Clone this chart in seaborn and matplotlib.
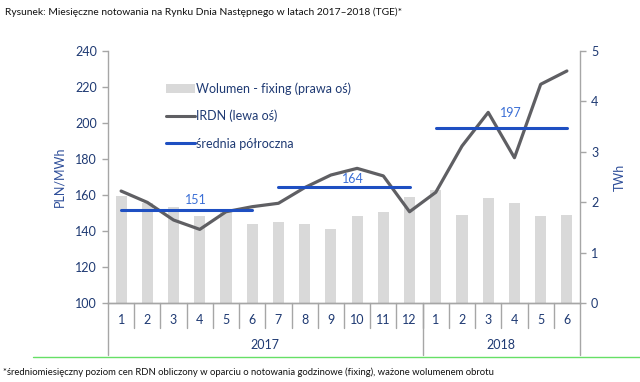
import matplotlib
matplotlib.use("Agg")
import matplotlib.pyplot as plt
import matplotlib.transforms as mtransforms
from matplotlib.patches import Patch
from matplotlib.lines import Line2D
import seaborn as sns
import pandas as pd

# ---- data ----
month_labels = ["1", "2", "3", "4", "5", "6", "7", "8", "9", "10", "11", "12",
                "1", "2", "3", "4", "5", "6"]
years = ["2017", "2018"]
year_sizes = [12, 6]
irdn = [162.2, 155.9, 146.1, 140.9, 150.7, 153.5, 155.4, 164.1, 171.1, 174.8, 170.6, 150.7,
        161.5, 187.2, 205.9, 180.7, 221.5, 228.9]
volume = [2.12, 1.98, 1.91, 1.73, 1.81, 1.56, 1.60, 1.56, 1.46, 1.73, 1.81, 2.11,
          2.24, 1.75, 2.09, 1.98, 1.73, 1.75]
half_starts = [0, 6, 12]
half_ends = [5, 11, 17]
half_avgs = [151.4, 164.4, 197.4]

legend_labels = ["Wolumen - fixing (prawa oś)", "IRDN (lewa oś)", "średnia półroczna"]
title = "Rysunek: Miesięczne notowania na Rynku Dnia Następnego w latach 2017\u20132018 (TGE)*"
footnote = "*średniomiesięczny poziom cen RDN obliczony w oparciu o notowania godzinowe (fixing), ważone wolumenem obrotu"

# ---- style ----
sns.set_theme(style="white")
plt.rcParams["font.family"] = ["Lato", "DejaVu Sans"]

NAVY = "#1F3A73"
AXBLUE = "#2F4F9A"
GRAY_SPINE = "#A6A6A6"
BAR = "#D9D9D9"
LINE = "#5F5F63"
AVG = "#1E4FC2"
AVGTXT = "#3B6FD6"
FS = 9

fig = plt.figure(figsize=(6.4, 3.82), dpi=100)
ax = fig.add_axes([108 / 640, 1 - 303 / 382, 472 / 640, 252 / 382])
ax2 = ax.twinx()
ax.set_zorder(ax2.get_zorder() + 1)
ax.patch.set_visible(False)

n = len(month_labels)
df = pd.DataFrame({"idx": list(range(n)), "irdn": irdn, "vol": volume})

sns.barplot(data=df, x="idx", y="vol", ax=ax2, color=BAR, width=0.42,
            saturation=1, edgecolor="none")
sns.lineplot(data=df, x="idx", y="irdn", ax=ax, color=LINE, linewidth=2.3)

for s, e, v in zip(half_starts, half_ends, half_avgs):
    sns.lineplot(x=[s, e], y=[v, v], ax=ax, color=AVG, linewidth=2.2)

label_offsets = [2.5, 1.0, 5.0]
for s, e, v, off in zip(half_starts, half_ends, half_avgs, label_offsets):
    ax.text(s + 2.85, v + off, f"{round(v)}", color=AVGTXT, fontsize=FS,
            ha="center", va="bottom")

ax.set_xlim(-0.5, n - 0.5)
ax2.set_xlim(-0.5, n - 0.5)
ax.set_ylim(100, 240)
ax.set_yticks(range(100, 241, 20))
ax2.set_ylim(0, 5)
ax2.set_yticks(range(0, 6))

for a in (ax, ax2):
    a.set_xticks([])
    a.set_xlabel("")
    for sp in a.spines.values():
        sp.set_color(GRAY_SPINE)
        sp.set_linewidth(1.0)
    a.spines["top"].set_visible(False)
ax.spines["right"].set_visible(False)
ax2.spines["left"].set_visible(False)

ax.tick_params(axis="y", length=4, width=1, color=GRAY_SPINE, labelsize=FS,
               labelcolor=NAVY, pad=4, left=True)
ax2.tick_params(axis="y", length=4, width=1, color=GRAY_SPINE, labelsize=FS,
                labelcolor=NAVY, pad=4, right=True)
ax.set_ylabel("PLN/MWh", color=AXBLUE, fontsize=FS, labelpad=7)
ax2.set_ylabel("TWh", color=AXBLUE, fontsize=FS, labelpad=11)

# category axis with two levels
trans = mtransforms.blended_transform_factory(ax.transData, ax.transAxes)
for i, lab in enumerate(month_labels):
    ax.text(i, -0.067, lab, transform=trans, ha="center", va="center",
            fontsize=FS, color=NAVY, clip_on=False)
for i in range(n - 1):
    ax.plot([i + 0.5, i + 0.5], [0, -0.099], transform=trans, color=GRAY_SPINE,
            lw=1.0, clip_on=False)
bounds = [-0.5]
for sz in year_sizes:
    bounds.append(bounds[-1] + sz)
for b in bounds:
    ax.plot([b, b], [0, -0.206], transform=trans, color=GRAY_SPINE, lw=1.0,
            clip_on=False)
for y, a, b in zip(years, bounds[:-1], bounds[1:]):
    ax.text((a + b) / 2, -0.167, y, transform=trans, ha="center", va="center",
            fontsize=FS, color=NAVY, clip_on=False)

handles = [Patch(facecolor=BAR, edgecolor="none"),
           Line2D([], [], color=LINE, lw=2.2),
           Line2D([], [], color=AVG, lw=2.2)]
leg = ax.legend(handles, legend_labels, loc="upper left",
                bbox_to_anchor=(0.112, 0.897), frameon=False, fontsize=FS,
                handlelength=2.3, handleheight=0.7, handletextpad=0.15,
                labelspacing=1.22, borderaxespad=0)
for t in leg.get_texts():
    t.set_color(NAVY)

fig.text(5 / 640, 1 - 12 / 382, title, fontsize=7.4, color="#111111",
         ha="left", va="center")
fig.add_artist(Line2D([33 / 640, 1.0], [1 - 357 / 382, 1 - 357 / 382],
                      color="#66E066", lw=1.0, transform=fig.transFigure))
fig.text(3 / 640, 1 - 372 / 382, footnote, fontsize=6.8, color="#111111",
         ha="left", va="center")

fig.savefig("out.png", dpi=100)
